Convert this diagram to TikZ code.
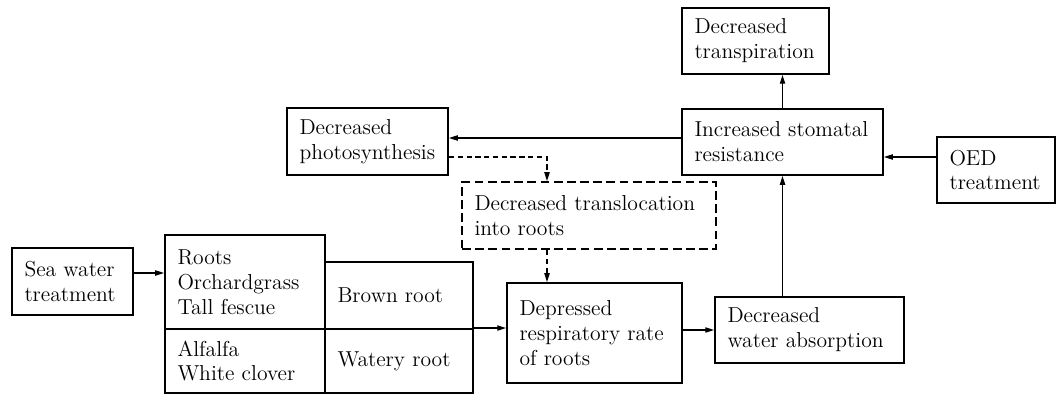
\documentclass[tikz,border=0pt]{standalone}
\usepackage{tikz}
\usetikzlibrary{arrows.meta}
\tikzset{
    box/.style={
        draw,
        line width=1.1pt,
        inner xsep=0.25cm,
        inner ysep=0pt,
        align=left,
        font=\fontsize{12.3}{14.2}\selectfont
    },
    % dashed box
    dbox/.style={
        box,
        dash pattern=on 5pt off 2.5pt
    },
    arr/.style={
        line width=0.7pt,
        -{Triangle[length=5pt, width=3pt]}
    },
    darr/.style={
        arr,
        dash pattern=on 3pt off 2pt
    }
}
\begin{document}
\begin{tikzpicture}
\useasboundingbox (0,0) rectangle (21.14,7.94);

% roots side
\node[box, text width=1.92cm, minimum height=1.34cm] (sea) at (1.45,2.31) {Sea water\\treatment};
\node[box, text width=2.70cm, minimum height=1.88cm] (roots) at (4.90,2.30) {Roots\\Orchardgrass\\Tall fescue};
\node[box, text width=2.70cm, minimum height=1.28cm] (legume) at (4.90,0.72) {Alfalfa\\White clover};
\node[box, text width=2.46cm, minimum height=1.34cm] (brown) at (7.98,2.03) {Brown root};
\node[box, text width=2.46cm, minimum height=1.28cm] (watery) at (7.98,0.72) {Watery root};
\node[box, text width=3.00cm, minimum height=2.00cm] (depr) at (11.89,1.28) {Depressed\\respiratory~rate\\of roots};
\node[box, text width=3.28cm, minimum height=1.32cm] (water) at (16.19,1.34) {Decreased\\water~absorption};

% leaf side
\node[box, text width=3.52cm, minimum height=1.32cm] (stom) at (15.65,5.10) {Increased~stomatal\\resistance};
\node[box, text width=2.44cm, minimum height=1.32cm] (transp) at (15.11,7.12) {Decreased\\transpiration};
\node[box, text width=2.72cm, minimum height=1.34cm] (photo) at (7.35,5.11) {Decreased\\photosynthesis};
\node[dbox, text width=4.58cm, minimum height=1.34cm] (transloc) at (11.78,3.63) {Decreased~translocation\\into roots};
\node[box, text width=1.86cm, minimum height=1.32cm] (oed) at (19.92,4.54) {OED\\treatment};

% arrows
\draw[arr] ([yshift=0.17cm]sea.east) -- ([yshift=0.17cm]sea.east -| roots.west);
\draw[arr] (watery.north east) -- (watery.north east -| depr.west);
\draw[arr] (water.west -| depr.east) -- (water.west);
\draw[arr] (water.north -| stom.south) -- (stom.south);
\draw[arr] (stom.north) -- (stom.north |- transp.south);
\draw[arr] ([yshift=0.08cm]stom.west) -- ([yshift=0.08cm]stom.west -| photo.east);
\draw[arr] ([yshift=0.26cm]oed.west) -- ([yshift=0.26cm]oed.west -| stom.east);

% dashed path
\coordinate (bend) at (10.94,4.80);
\draw[darr] (bend -| photo.east) -- (bend) -- (bend |- transloc.north);
\draw[darr] ([xshift=-0.84cm]transloc.south) -- ([xshift=-0.84cm]transloc.south |- depr.north);
\end{tikzpicture}
\end{document}
